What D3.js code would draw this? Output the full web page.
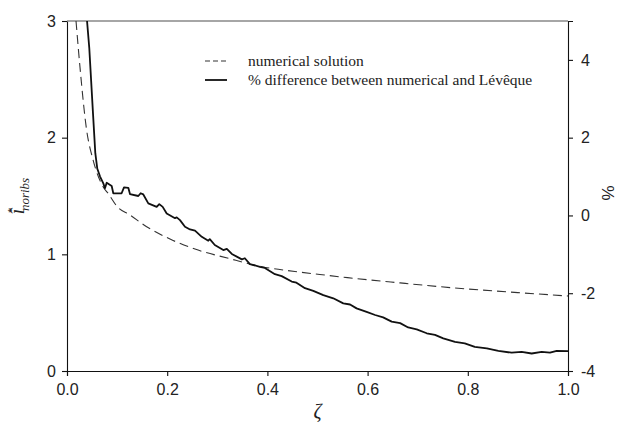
<!DOCTYPE html>
<html><head><meta charset="utf-8">
<script src="https://cdn.jsdelivr.net/npm/d3@7"></script>
<style>body{margin:0;background:#fff}svg{display:block}</style>
</head><body>
<svg id="c" width="622" height="425"></svg>
<script>
// numerical solution (left axis)
const zetaNum = [0.018, 0.026, 0.039, 0.052, 0.072, 0.0825, 0.10, 0.1257, 0.159, 0.2056, 0.2555, 0.322, 0.389, 0.455, 0.515, 0.56, 0.665, 0.7645, 0.9, 1.0];
const numSol  = [3.0, 2.6, 2.07, 1.81, 1.58, 1.52, 1.41, 1.337, 1.237, 1.131, 1.045, 0.966, 0.894, 0.853, 0.822, 0.80, 0.755, 0.715, 0.672, 0.643];
// % difference (right axis)
const zetaPct = [0.040, 0.0445, 0.052, 0.0565, 0.0605, 0.066, 0.0725, 0.0758, 0.0792, 0.0892, 0.0924, 0.109, 0.1138, 0.1224, 0.1257, 0.1423, 0.147, 0.1523, 0.1623, 0.179, 0.1842, 0.191, 0.199, 0.2156, 0.219, 0.2255, 0.2355, 0.2455, 0.2555, 0.269, 0.282, 0.285, 0.295, 0.312, 0.319, 0.329, 0.349, 0.355, 0.365, 0.385, 0.395, 0.415, 0.4285, 0.4485, 0.458, 0.475, 0.4916, 0.5116, 0.5315, 0.5515, 0.565, 0.578, 0.598, 0.615, 0.631, 0.648, 0.665, 0.681, 0.698, 0.718, 0.7345, 0.751, 0.7745, 0.794, 0.814, 0.838, 0.861, 0.8875, 0.9075, 0.9275, 0.9475, 0.964, 0.9775, 1.0];
const pctDiff = [5.0, 4.3, 2.6, 1.6, 1.2, 1.0, 0.825, 0.70, 0.84, 0.756, 0.57, 0.57, 0.72, 0.71, 0.55, 0.50, 0.57, 0.54, 0.31, 0.22, 0.29, 0.22, 0.05, -0.07, -0.05, -0.12, -0.29, -0.36, -0.39, -0.55, -0.65, -0.61, -0.76, -0.89, -0.86, -0.99, -1.13, -1.10, -1.25, -1.32, -1.35, -1.51, -1.56, -1.70, -1.73, -1.87, -1.94, -2.05, -2.13, -2.26, -2.29, -2.39, -2.48, -2.56, -2.62, -2.73, -2.77, -2.88, -2.93, -3.03, -3.07, -3.16, -3.25, -3.29, -3.38, -3.42, -3.48, -3.53, -3.51, -3.55, -3.51, -3.53, -3.48, -3.49];
const xTicks = [0, 0.2, 0.4, 0.6, 0.8, 1.0];
const yLeftTicks = [0, 1, 2, 3];
const yRightTicks = [-4, -2, 0, 2, 4];
const legendLabels = ["numerical solution", "% difference between numerical and Lévêque"];

const L = 67, R = 568, T = 21, B = 371;
const svg = d3.select("#c");
const x = d3.scaleLinear().domain([0, 1]).range([L, R]);
const yL = d3.scaleLinear().domain([0, 3]).range([B, T]);
const yR = d3.scaleLinear().domain([-4, 5]).range([B, T]);

svg.append("defs").append("clipPath").attr("id", "clip")
  .append("rect").attr("x", L).attr("y", T).attr("width", R - L).attr("height", B - T);

const tickFont = "'Liberation Sans', Arial, sans-serif";
const serif = "'Liberation Serif', 'Times New Roman', serif";

// axes
const gx = svg.append("g").attr("transform", `translate(0,${B})`)
  .call(d3.axisBottom(x).tickValues(xTicks).tickFormat(d3.format(".1f")).tickSizeOuter(0).tickSize(5).tickPadding(5));
const gl = svg.append("g").attr("transform", `translate(${L},0)`)
  .call(d3.axisLeft(yL).tickValues(yLeftTicks).tickFormat(d3.format("d")).tickSizeOuter(0).tickSize(5).tickPadding(6));
const gr = svg.append("g").attr("transform", `translate(${R},0)`)
  .call(d3.axisRight(yR).tickValues(yRightTicks).tickFormat(d => d < 0 ? "-" + Math.abs(d) : d).tickSizeOuter(0).tickSize(5).tickPadding(8));
[gx, gl, gr].forEach(g => {
  g.selectAll("text").attr("font-family", tickFont).attr("font-size", 16).attr("fill", "#222");
  g.selectAll("line,path").attr("stroke", "#111").attr("stroke-width", 1.1);
});
gx.selectAll("text").attr("dy", "0.9em");

// top frame
svg.append("line").attr("x1", L).attr("x2", R).attr("y1", T).attr("y2", T)
  .attr("stroke", "#888").attr("stroke-width", 1.5);

const plot = svg.append("g").attr("clip-path", "url(#clip)");
const numData = zetaNum.map((z, i) => [z, numSol[i]]);
const pctData = zetaPct.map((z, i) => [z, pctDiff[i]]);

plot.append("path").datum(numData)
  .attr("d", d3.line().x(d => x(d[0])).y(d => yL(d[1])).curve(d3.curveMonotoneX))
  .attr("fill", "none").attr("stroke", "#333").attr("stroke-width", 1.1).attr("stroke-dasharray", "9,5");
plot.append("path").datum(pctData)
  .attr("d", d3.line().x(d => x(d[0])).y(d => yR(d[1])))
  .attr("fill", "none").attr("stroke", "#111").attr("stroke-width", 1.8).attr("stroke-linejoin", "round");

// legend
const lg = svg.append("g");
const rows = [61, 80];
lg.append("line").attr("x1", 205).attr("x2", 227).attr("y1", rows[0]).attr("y2", rows[0])
  .attr("stroke", "#333").attr("stroke-width", 1.1).attr("stroke-dasharray", "5,3");
lg.append("line").attr("x1", 205).attr("x2", 227).attr("y1", rows[1]).attr("y2", rows[1])
  .attr("stroke", "#111").attr("stroke-width", 1.8);
legendLabels.forEach((t, i) => {
  lg.append("text").attr("x", 248).attr("y", rows[i] + 5).text(t)
    .attr("font-family", serif).attr("font-size", 15.5).attr("fill", "#222");
});

// axis titles
svg.append("text").attr("x", (L + R) / 2).attr("y", 418).attr("text-anchor", "middle")
  .attr("font-family", serif).attr("font-style", "italic").attr("font-size", 20).attr("fill", "#222").text("ζ");

const yt = svg.append("text").attr("transform", "translate(24,196) rotate(-90)").attr("text-anchor", "middle")
  .attr("font-family", serif).attr("font-style", "italic").attr("fill", "#222").attr("font-size", 20);
yt.append("tspan").text("î");
yt.append("tspan").attr("dy", -9).attr("dx", -5).attr("font-size", 11).text("*");
yt.append("tspan").attr("dy", 14).attr("dx", -3).attr("font-size", 13).text("noribs");

svg.append("text").attr("transform", "translate(614,193) rotate(-90)").attr("text-anchor", "middle")
  .attr("font-family", tickFont).attr("font-size", 17).attr("fill", "#222").text("%");
</script>
</body></html>
